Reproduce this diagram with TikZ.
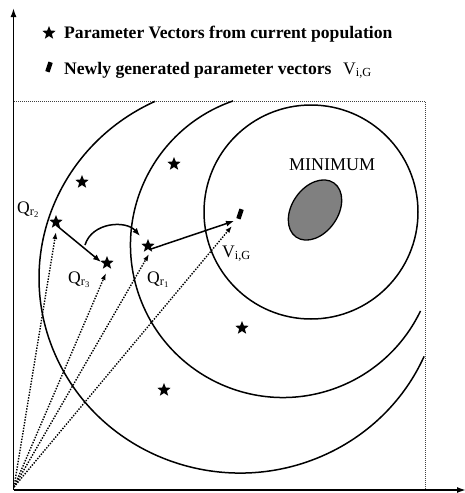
\documentclass[tikz,border=0pt]{standalone}
\usepackage{fontspec}
\setmainfont{Liberation Serif}
\usetikzlibrary{arrows.meta,shapes.geometric}
\begin{document}
\begin{tikzpicture}[x=1pt,y=-1pt,
  pstar/.style={star, star points=5, star point ratio=2.3, fill=black, inner sep=0pt, minimum size=14pt},
  newvec/.style={rectangle, fill=black, inner sep=0pt, minimum width=4.5pt, minimum height=10pt, rotate=-18},
  lbl/.style={inner sep=0pt, font=\fontsize{17.6}{20}\selectfont, anchor=base west},
  contour/.style={line width=1.5pt},
  axis/.style={line width=1.6pt, -{Latex[length=9pt,width=6pt]}},
  solidarrow/.style={line width=1.5pt, -{Latex[length=8pt,width=6pt]}},
  dotarrow/.style={line width=1.4pt, dash pattern=on 1.4pt off 1.4pt, -{Latex[length=7pt,width=5pt]}},
  frame/.style={line width=0.9pt, dash pattern=on 0.9pt off 1.1pt, black!75}]
\useasboundingbox (0,0) rectangle (465,493);

% frame
\draw[frame] (14,101) -- (425,101) -- (425,490);

% contours
\draw[contour] (311,212) circle[radius=107pt];
\draw[contour] (233.1,100.9) arc[start angle=250.9, end angle=25.6, radius=152.5];
\draw[contour] (155.1,101.3) arc[start angle=245, end angle=23.7, x radius=201, y radius=195];

% minimum
\node[draw, fill={rgb,255:red,128;green,128;blue,128}, ellipse, line width=1.3pt,
      minimum width=66pt, minimum height=46pt, inner sep=0pt, rotate=55] (minimum) at (315,210) {};
\node[lbl, font=\fontsize{18}{20}\selectfont] (mintext) at (289,170) {MINIMUM};

% axes
\coordinate (O) at (13.5,490);
\coordinate (ytop) at (13.5,8);
\coordinate (xend) at (466,490);
\draw[axis] (O) -- (ytop);
\draw[axis] (O) -- (xend);

% legend
\node[pstar] (legstar) at (49,33) {};
\node[newvec] (legvec) at (49,67) {};
\node[lbl] (leg1) at (64,38) {\bfseries Parameter Vectors from current population};
\node[lbl] (leg2) at (64,74) {\bfseries Newly generated parameter vectors};
\node[lbl] (leg3) at (343,74) {V\textsubscript{i,G}};

% population stars
\node[pstar] (s1) at (82,182) {};
\node[pstar] (s2) at (174,164) {};
\node[pstar] (qr2) at (56,222) {};
\node[pstar] (qr3) at (107,263) {};
\node[pstar] (qr1) at (148,246) {};
\node[pstar] (s5) at (242,328) {};
\node[pstar] (s6) at (164,390) {};

% new vector
\node[newvec] (v) at (240,214) {};

% labels
\node[lbl] (lqr2) at (17,213) {Q\textsubscript{r\textsubscript{2}}};
\node[lbl] (lqr3) at (68,283) {Q\textsubscript{r\textsubscript{3}}};
\node[lbl] (lqr1) at (147,283) {Q\textsubscript{r\textsubscript{1}}};
\node[lbl] (lv) at (222,257) {V\textsubscript{i,G}};

% dotted vectors from origin
\coordinate (D) at (14,487);
\coordinate (tq2) at (56,232);
\coordinate (tq3) at (106,273);
\coordinate (tq1) at (149,254);
\coordinate (tv) at (232,226);
\draw[dotarrow] (D) -- (tq2);
\draw[dotarrow] (D) -- (tq3);
\draw[dotarrow] (D) -- (tq1);
\draw[dotarrow] (D) -- (tv);

% difference vector and mutation
\coordinate (a1) at (56,225);
\coordinate (a2) at (101,262);
\draw[solidarrow] (a1) -- (a2);
\coordinate (c1) at (85,245);
\coordinate (c2) at (140,236);
\draw[line width=1.5pt, -{Latex[length=8pt,width=6pt]}] (c1) .. controls (92,222) and (126,220) .. (c2);
\coordinate (b1) at (151,249);
\coordinate (b2) at (234,221);
\draw[solidarrow] (b1) -- (b2);
\end{tikzpicture}
\end{document}
